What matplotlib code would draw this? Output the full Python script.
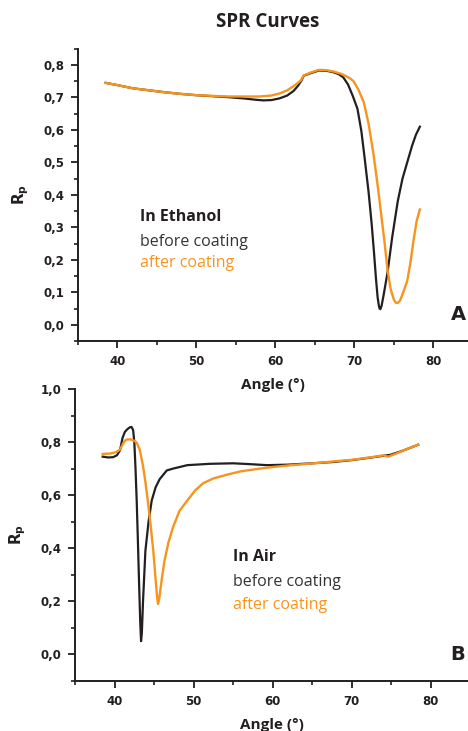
import matplotlib
matplotlib.use("Agg")
import matplotlib.pyplot as plt
from matplotlib.ticker import MultipleLocator, FuncFormatter

# panel A: in ethanol
eth_before_x = [38.5, 40, 42, 44, 46, 48, 50, 52, 54, 56, 57.5, 58.5, 59.5, 60.5, 61.5,
                62.3, 62.9, 63.3, 63.6, 64.5, 65.5, 66.5, 67.3, 68.0, 68.6, 69.2, 69.8,
                70.4, 70.9, 71.3, 71.8, 72.2, 72.5, 72.75, 72.95, 73.1, 73.2, 73.3, 73.45,
                73.7, 74.2, 74.8, 75.5, 76.1, 76.7, 77.3, 77.8, 78.3]
eth_before_y = [0.745, 0.738, 0.728, 0.722, 0.716, 0.711, 0.707, 0.704, 0.701, 0.697,
                0.693, 0.691, 0.692, 0.697, 0.706, 0.72, 0.737, 0.752, 0.767, 0.775,
                0.783, 0.782, 0.778, 0.772, 0.762, 0.74, 0.705, 0.665, 0.595, 0.515,
                0.41, 0.31, 0.22, 0.14, 0.085, 0.06, 0.05, 0.048, 0.058, 0.09, 0.16,
                0.27, 0.38, 0.45, 0.5, 0.55, 0.585, 0.61]
eth_after_x = [38.5, 40, 42, 44, 46, 48, 50, 52, 54, 56, 58, 59.5, 60.5, 61.5, 62.5,
               63.2, 63.6, 64.5, 65.5, 66.5, 67.5, 68.3, 69.0, 69.5, 69.9, 70.5, 71.2,
               71.8, 72.4, 72.9, 73.3, 73.8, 74.2, 74.6, 75.0, 75.25, 75.5, 75.8, 76.2,
               76.7, 77.1, 77.5, 77.9, 78.3]
eth_after_y = [0.745, 0.738, 0.728, 0.722, 0.716, 0.711, 0.707, 0.705, 0.703, 0.703,
               0.703, 0.706, 0.712, 0.722, 0.738, 0.752, 0.768, 0.777, 0.785, 0.784,
               0.779, 0.773, 0.765, 0.758, 0.75, 0.725, 0.685, 0.62, 0.53, 0.44, 0.36,
               0.26, 0.17, 0.11, 0.078, 0.068, 0.067, 0.075, 0.1, 0.135, 0.19, 0.26,
               0.32, 0.355]

# panel B: in air
air_before_x = [38.5, 39.2, 39.8, 40.3, 40.7, 41.0, 41.3, 41.6, 41.9, 42.15, 42.35, 42.5,
                42.65, 42.8, 42.95, 43.1, 43.25, 43.35, 43.45, 43.6, 43.9, 44.3, 44.7,
                45.2, 45.7, 46.6, 47.4, 49.2, 52, 55, 57, 59.3, 62, 65, 67.7, 70, 72.5,
                74.9, 76.5, 78.4]
air_before_y = [0.745, 0.742, 0.743, 0.75, 0.77, 0.815, 0.838, 0.848, 0.855, 0.857, 0.845,
                0.8, 0.7, 0.58, 0.43, 0.27, 0.12, 0.05, 0.08, 0.2, 0.39, 0.5, 0.58, 0.63,
                0.66, 0.693, 0.7, 0.713, 0.718, 0.72, 0.717, 0.713, 0.715, 0.72, 0.725,
                0.732, 0.742, 0.752, 0.768, 0.79]
air_after_x = [38.5, 39.5, 40.2, 40.7, 41.0, 41.3, 41.6, 42.0, 42.5, 42.8, 43.2, 43.6,
               43.9, 44.2, 44.55, 44.9, 45.2, 45.4, 45.5, 45.65, 46.0, 46.3, 46.8, 47.4,
               48.2, 49.2, 50.2, 51.2, 52.5, 54.2, 56, 58.4, 60, 62, 64, 66, 68, 70,
               72.5, 74.0, 74.6, 75.5, 76.5, 78.4]
air_after_y = [0.755, 0.757, 0.762, 0.772, 0.79, 0.805, 0.81, 0.81, 0.805, 0.798, 0.77,
               0.71, 0.65, 0.58, 0.49, 0.39, 0.28, 0.21, 0.19, 0.21, 0.29, 0.35, 0.42,
               0.48, 0.54, 0.58, 0.618, 0.645, 0.663, 0.677, 0.69, 0.7, 0.706, 0.712,
               0.717, 0.722, 0.728, 0.733, 0.743, 0.75, 0.745, 0.755, 0.768, 0.79]

BLACK = "#231f20"
ORANGE = "#f7941d"
TEXTFONT = ["Open Sans", "DejaVu Sans"]

comma = FuncFormatter(lambda v, p: f"{v:.1f}".replace(".", ","))


def style_axes(ax, xmax, ymin, ymax, ymajor):
    ax.set_xlim(35, xmax)
    ax.set_ylim(ymin, ymax)
    ax.patch.set_visible(False)
    for s in ("top", "right"):
        ax.spines[s].set_visible(False)
    for s in ("left", "bottom"):
        ax.spines[s].set_linewidth(1.4)
        ax.spines[s].set_color(BLACK)
    ax.xaxis.set_major_locator(MultipleLocator(10))
    ax.xaxis.set_minor_locator(MultipleLocator(5))
    ax.yaxis.set_major_locator(MultipleLocator(ymajor))
    ax.yaxis.set_minor_locator(MultipleLocator(ymajor / 2))
    ax.yaxis.set_major_formatter(comma)
    ax.tick_params(which="major", length=5, width=1.3, colors=BLACK, labelsize=8.5, pad=5)
    ax.tick_params(which="minor", length=3, width=1.2, colors=BLACK)
    for lab in ax.get_xticklabels() + ax.get_yticklabels():
        lab.set_fontweight("bold")
    ax.set_xlabel("Angle (°)", fontsize=11, fontweight="bold", family=TEXTFONT,
                  color=BLACK, labelpad=7)
    ax.set_ylabel(r"$\mathbf{R_p}$", fontsize=11, color=BLACK, labelpad=9)


fig = plt.figure(figsize=(4.68, 7.31), dpi=100)

ax1 = fig.add_axes([0.1667, 0.5335, 0.8333, 0.3998])
ax1.plot(eth_before_x, eth_before_y, color=BLACK, lw=1.6)
ax1.plot(eth_after_x, eth_after_y, color=ORANGE, lw=1.7)
style_axes(ax1, 84.4, -0.05, 0.85, 0.1)
ax1.set_yticks([0.0, 0.1, 0.2, 0.3, 0.4, 0.5, 0.6, 0.7, 0.8])
ax1.text(42.8, 0.333, "In Ethanol", fontsize=11.5, fontweight="bold", family=TEXTFONT,
         color=BLACK, va="center")
ax1.text(42.8, 0.256, "before coating", fontsize=11.5, family=TEXTFONT, color="#333333",
         va="center")
ax1.text(42.8, 0.19, "after coating", fontsize=11.5, family=TEXTFONT, color=ORANGE,
         va="center")

ax2 = fig.add_axes([0.1603, 0.0684, 0.8397, 0.3995])
ax2.plot(air_before_x, air_before_y, color=BLACK, lw=1.6)
ax2.plot(air_after_x, air_after_y, color=ORANGE, lw=1.7)
style_axes(ax2, 84.7, -0.1, 1.0, 0.2)
ax2.text(55.0, 0.367, "In Air", fontsize=11.5, fontweight="bold", family=TEXTFONT,
         color=BLACK, va="center")
ax2.text(55.0, 0.273, "before coating", fontsize=11.5, family=TEXTFONT, color="#333333",
         va="center")
ax2.text(55.0, 0.188, "after coating", fontsize=11.5, family=TEXTFONT, color=ORANGE,
         va="center")

fig.text(458 / 468, 1 - 315 / 731, "A", fontsize=14, fontweight="bold", ha="center",
         va="center", color=BLACK)
fig.text(458 / 468, 1 - 655 / 731, "B", fontsize=14, fontweight="bold", ha="center",
         va="center", color=BLACK)
fig.text(268 / 468, 1 - 22 / 731, "SPR Curves", fontsize=13.5, fontweight="bold",
         family=TEXTFONT, ha="center", va="center", color=BLACK)

fig.savefig("out.png", dpi=100)
